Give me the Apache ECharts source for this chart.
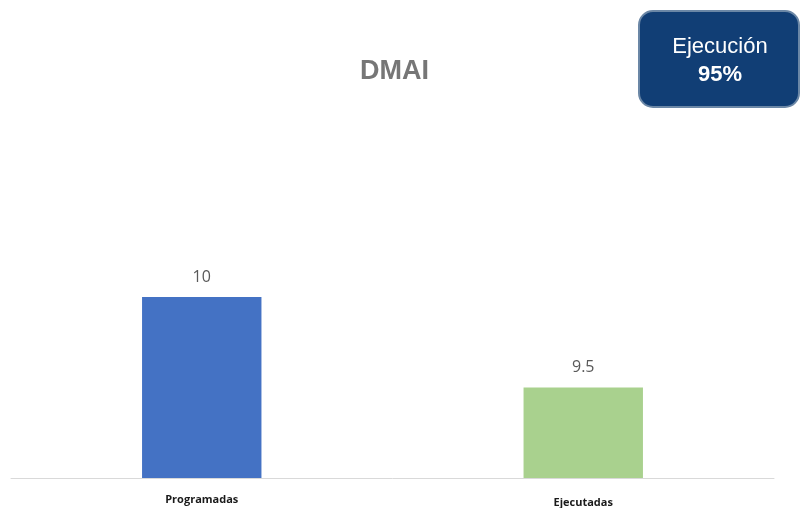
<!DOCTYPE html>
<html>
<head>
<meta charset="utf-8">
<script src="https://cdn.jsdelivr.net/npm/echarts@6/dist/echarts.min.js"></script>
<style>html,body{margin:0;padding:0;background:#fff;overflow:hidden;}#c{width:801px;height:508px;}</style>
</head>
<body>
<div id="c"></div>
<script>
const categories = ['Programadas', 'Ejecutadas'];
const values = [10, 9.5];
const barColors = ['#4472C4', '#A9D18E'];
const titleText = 'DMAI';
const boxLabel = 'Ejecución';
const boxValue = '95%';

const chart = echarts.init(document.getElementById('c'), null, {renderer: 'canvas'});
chart.setOption({
  animation: false,
  backgroundColor: '#ffffff',
  title: {
    text: titleText,
    left: 355, top: 53,
    textStyle: {fontFamily: 'Liberation Sans', fontWeight: 'bold', fontSize: 27, color: '#767676'}
  },
  grid: {left: 11, right: 27, top: 116, height: 364, containLabel: false},
  xAxis: {
    type: 'category',
    data: categories.map((c, i) => i === 1 ? {value: c, textStyle: {padding: [3, 0, 0, 0]}} : {value: c}),
    axisLine: {lineStyle: {color: '#d9d9d9', width: 1}},
    axisTick: {show: false},
    axisLabel: {fontFamily: 'Open Sans', fontWeight: 'bold', fontSize: 11, color: '#1a1a1a', margin: 16}
  },
  yAxis: {
    type: 'value', min: 9, max: 11,
    show: false,
    splitLine: {show: false}
  },
  series: [{
    type: 'bar',
    barWidth: '31.3%',
    data: values.map((v, i) => ({value: v, itemStyle: {color: barColors[i]}})),
    label: {
      show: true, position: 'top', distance: 12,
      fontFamily: 'Open Sans', fontSize: 16, color: '#595959'
    }
  }],
  graphic: [{
    type: 'group',
    left: 638, top: 10,
    children: [{
      type: 'rect',
      shape: {x: 0, y: 0, width: 160, height: 96, r: 14},
      style: {fill: '#113e75', stroke: '#6b87a6', lineWidth: 2}
    }, {
      type: 'text',
      x: 81, y: 50,
      style: {
        text: '{a|' + boxLabel + '}\n{b|' + boxValue + '}',
        align: 'center', verticalAlign: 'middle',
        fill: '#ffffff',
        rich: {
          a: {fontFamily: 'Liberation Sans', fontSize: 22, fill: '#ffffff', lineHeight: 28},
          b: {fontFamily: 'Liberation Sans', fontSize: 22, fontWeight: 'bold', fill: '#ffffff', lineHeight: 28}
        }
      }
    }]
  }]
});
</script>
</body>
</html>
